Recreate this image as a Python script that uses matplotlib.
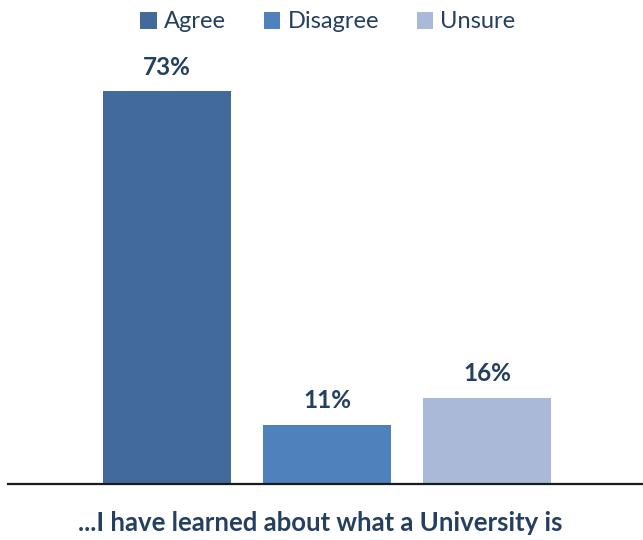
import matplotlib.pyplot as plt

categories = ["Agree", "Disagree", "Unsure"]
values = [73, 11, 16]
colors = ["#426A9A", "#4F81BD", "#A9B9D7"]
xlabel_text = "...I have learned about what a University is"

text_color = "#243F60"
plt.rcParams["font.family"] = ["Lato", "DejaVu Sans"]

fig = plt.figure(figsize=(6.43, 5.4), dpi=100)
# axes placed in pixels: baseline at y=484, left edge at x=8
W, H = 643, 540
ax = fig.add_axes([8 / W, 56 / H, (643 - 8) / W, 444 / H])

x = range(len(categories))
bars = ax.bar(x, values, width=0.8, color=colors, label=categories)
ax.set_xlim(-159 / 160, 476 / 160)
ax.set_ylim(0, 444 / 393 * 73)

for b, v in zip(bars, values):
    ax.annotate(f"{v}%", (b.get_x() + b.get_width() / 2, v),
                xytext=(0, 9), textcoords="offset points",
                ha="center", va="bottom", fontsize=17.5, fontweight="bold",
                color=text_color)

for side in ["top", "right", "left"]:
    ax.spines[side].set_visible(False)
ax.spines["bottom"].set_linewidth(1.6)
ax.spines["bottom"].set_color("#1a1a1a")
ax.set_xticks([])
ax.set_yticks([])

fig.text(320 / W, 1 - 523 / H, xlabel_text, ha="center", va="center",
         fontsize=18.5, fontweight="bold", color=text_color)

leg = fig.legend(handles=list(bars), labels=categories, ncol=3,
                 loc="center", bbox_to_anchor=(328 / W, 1 - 22 / H),
                 frameon=False, fontsize=17, handlelength=0.7,
                 handleheight=0.7, handletextpad=0.3, columnspacing=1.6)
for t in leg.get_texts():
    t.set_color(text_color)

fig.savefig("out.png", dpi=100)
